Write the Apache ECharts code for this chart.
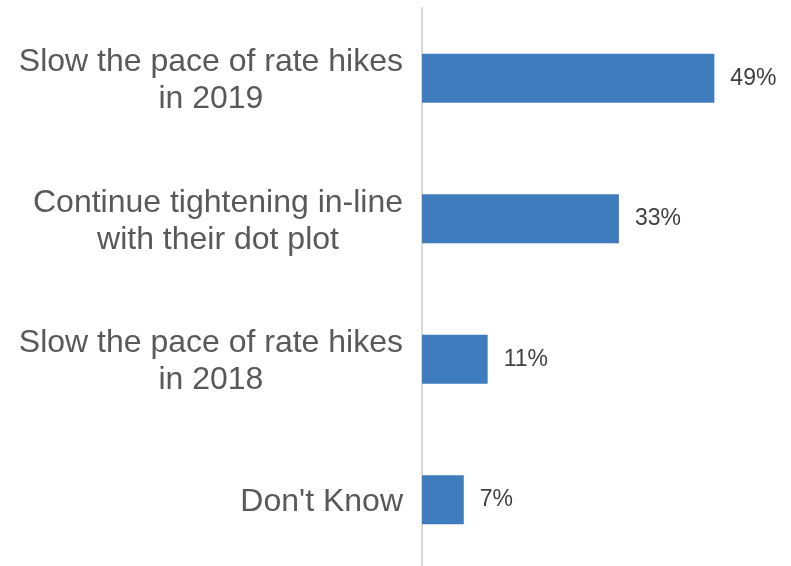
<!DOCTYPE html>
<html>
<head>
<meta charset="utf-8">
<script src="https://cdn.jsdelivr.net/npm/echarts@6/dist/echarts.min.js"></script>
<style>
  html, body { margin: 0; padding: 0; background: #fff; overflow: hidden; }
  #chart { width: 791px; height: 574px; }
</style>
</head>
<body>
<div id="chart"></div>
<script>
// Survey responses, listed top to bottom
const categories = [
  'Slow the pace of rate hikes\nin 2019',
  'Continue tightening in-line\nwith their dot plot',
  'Slow the pace of rate hikes\nin 2018',
  "Don't Know"
];
const shares = [49, 33, 11, 7];

const chart = echarts.init(document.getElementById('chart'), null, { renderer: 'canvas' });

chart.setOption({
  animation: false,
  backgroundColor: '#ffffff',
  // the axis runs past the lower edge of the visible area
  grid: { left: 422, right: 14, top: 8, bottom: 4, containLabel: false },
  xAxis: {
    type: 'value',
    min: 0,
    max: 59.5,
    show: false
  },
  yAxis: {
    type: 'category',
    data: categories,
    inverse: true,
    axisLine: { show: true, lineStyle: { color: '#d9d9d9', width: 2 } },
    axisTick: { show: false },
    splitLine: { show: false },
    axisLabel: {
      margin: 19,
      padding: [5, 0, 0, 0],
      formatter: v => v.split('\n').map(s => '{c|' + s + '}').join('\n'),
      rich: {
        c: {
          align: 'center',
          fontFamily: 'Liberation Sans, Arial, sans-serif',
          fontSize: 32,
          lineHeight: 37,
          color: '#595959'
        }
      }
    }
  },
  series: [{
    type: 'bar',
    data: shares,
    barWidth: 49,
    itemStyle: { color: '#3f7cbd' },
    label: {
      show: true,
      position: 'right',
      distance: 16,
      formatter: p => p.value + '%',
      fontFamily: 'Liberation Sans, Arial, sans-serif',
      fontSize: 23,
      color: '#404040'
    }
  }]
});
</script>
</body>
</html>
